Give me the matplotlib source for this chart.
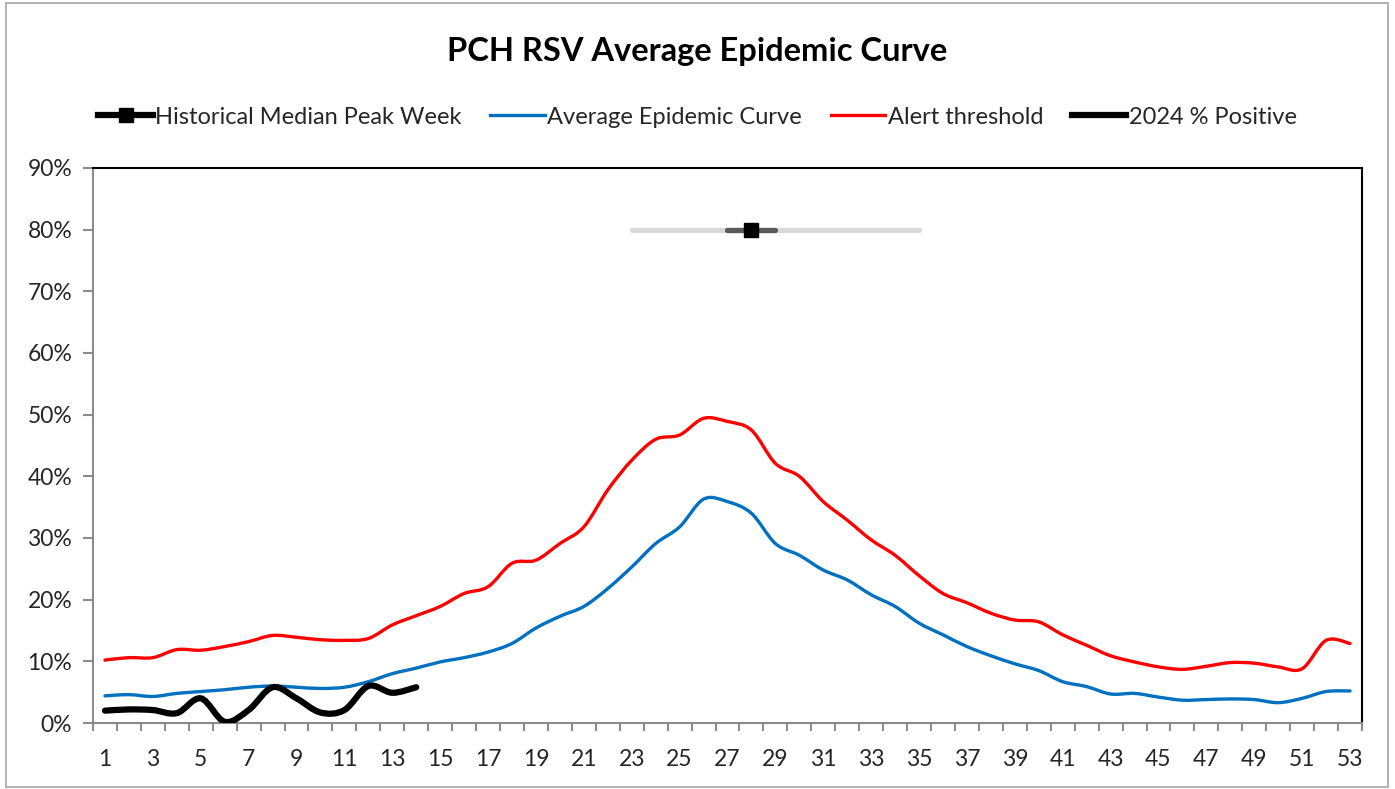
import numpy as np
import matplotlib.pyplot as plt
from matplotlib.path import Path
from matplotlib.patches import PathPatch, Rectangle
from matplotlib.lines import Line2D
from matplotlib.ticker import FixedLocator, PercentFormatter

plt.rcParams['font.family'] = ['Lato', 'DejaVu Sans']

# week numbers
weeks = list(range(1, 54))

# alert threshold (%)
alert = [10.2, 10.6, 10.6, 11.9, 11.8, 12.4, 13.2, 14.2, 13.9, 13.5,
         13.4, 13.7, 15.9, 17.4, 18.9, 21.0, 22.1, 25.9, 26.4, 29.1,
         31.8, 37.8, 42.6, 46.0, 46.7, 49.4, 48.9, 47.5, 42.1, 40.0,
         35.9, 32.9, 29.7, 27.2, 23.9, 21.0, 19.5, 17.8, 16.7, 16.4,
         14.3, 12.6, 10.9, 9.9, 9.1, 8.7, 9.2, 9.8, 9.7, 9.1,
         8.8, 13.4, 12.9]

# average epidemic curve (%)
average = [4.4, 4.6, 4.3, 4.8, 5.1, 5.4, 5.8, 6.0, 5.8, 5.6,
           5.8, 6.7, 8.0, 8.9, 9.9, 10.6, 11.5, 12.9, 15.4, 17.3,
           18.9, 21.8, 25.3, 29.1, 31.8, 36.3, 35.9, 34.0, 29.1, 27.2,
           24.8, 23.2, 20.8, 18.9, 16.2, 14.3, 12.4, 10.9, 9.6, 8.5,
           6.7, 5.9, 4.7, 4.8, 4.2, 3.7, 3.8, 3.9, 3.8, 3.3,
           4.0, 5.1, 5.2]

# 2024 % positive (weeks 1-14)
weeks_2024 = list(range(1, 15))
positive_2024 = [2.0, 2.2, 2.1, 1.6, 4.0, 0.2, 2.1, 5.8, 4.0, 1.7,
                 2.1, 6.0, 4.9, 5.8]

# historical median peak week with ranges
peak_week = 28
peak_level = 80
peak_iqr = [27, 29]
peak_range = [23, 35]


def smooth_path(x, y):
    # excel style smoothed line as bezier segments
    pts = np.column_stack([x, y]).astype(float)
    n = len(pts)
    verts = [pts[0]]
    codes = [Path.MOVETO]
    for i in range(n - 1):
        p0 = pts[max(i - 1, 0)]
        p1 = pts[i]
        p2 = pts[i + 1]
        p3 = pts[min(i + 2, n - 1)]
        c1 = p1 + (p2 - p0) / 6.0
        c2 = p2 - (p3 - p1) / 6.0
        verts += [c1, c2, p2]
        codes += [Path.CURVE4] * 3
    return Path(verts, codes)


fig = plt.figure(figsize=(13.95, 7.89), dpi=100)
fig.patches.append(Rectangle((0.004, 0.003), 0.991, 0.993, transform=fig.transFigure,
                             fill=False, edgecolor='#a6a6a6', linewidth=1.2))
ax = fig.add_axes([93 / 1395, 1 - 723 / 789, 1269 / 1395, 555 / 789])

ax.add_patch(PathPatch(smooth_path(weeks, alert), fill=False, edgecolor='#ff0000',
                       linewidth=2.4, capstyle='round', zorder=3))
ax.add_patch(PathPatch(smooth_path(weeks, average), fill=False, edgecolor='#0070c0',
                       linewidth=2.4, capstyle='round', zorder=3))
ax.add_patch(PathPatch(smooth_path(weeks_2024, positive_2024), fill=False, edgecolor='black',
                       linewidth=4.5, capstyle='round', zorder=4))

ax.plot(peak_range, [peak_level, peak_level], color='#d9d9d9', linewidth=3.8,
        solid_capstyle='round', zorder=5)
ax.plot(peak_iqr, [peak_level, peak_level], color='#595959', linewidth=3.8,
        solid_capstyle='round', zorder=6)
ax.plot([peak_week], [peak_level], marker='s', color='black', markersize=10, zorder=7)

ax.set_xlim(0.5, 53.5)
ax.set_ylim(0, 90)
ax.xaxis.set_major_locator(FixedLocator(weeks[::2]))
ax.xaxis.set_minor_locator(FixedLocator(np.arange(0.5, 54, 1)))
ax.yaxis.set_major_locator(FixedLocator(range(0, 91, 10)))
ax.yaxis.set_major_formatter(PercentFormatter(decimals=0))
ax.tick_params(axis='x', which='major', length=0, labelsize=16.5, pad=19, colors='#262626')
ax.tick_params(axis='x', which='minor', length=6, width=1.5, color='#8c8c8c')
ax.tick_params(axis='y', which='major', length=7, width=1.5, color='#8c8c8c',
               labelsize=16.5, pad=8, labelcolor='#262626')

for side in ['left', 'bottom']:
    ax.spines[side].set_color('#8c8c8c')
    ax.spines[side].set_linewidth(1.5)
for side in ['top', 'right']:
    ax.spines[side].set_color('black')
    ax.spines[side].set_linewidth(1.5)

fig.text(0.5, 1 - 52 / 789, 'PCH RSV Average Epidemic Curve', ha='center', va='center',
         fontsize=23.5, fontweight='bold')

handles = [
    Line2D([], [], color='black', linewidth=4.5, marker='s', markersize=10),
    Line2D([], [], color='#0070c0', linewidth=2.4),
    Line2D([], [], color='#ff0000', linewidth=2.4),
    Line2D([], [], color='black', linewidth=4.5),
]
labels = ['Historical Median Peak Week', 'Average Epidemic Curve', 'Alert threshold',
          '2024 % Positive']
fig.legend(handles, labels, loc='center', bbox_to_anchor=(0.5, 1 - 117 / 789), ncol=4,
           frameon=False, fontsize=17, handlelength=2.3, handletextpad=0.12,
           columnspacing=1.2, labelcolor='#262626')

fig.savefig('out.png', dpi=100)
